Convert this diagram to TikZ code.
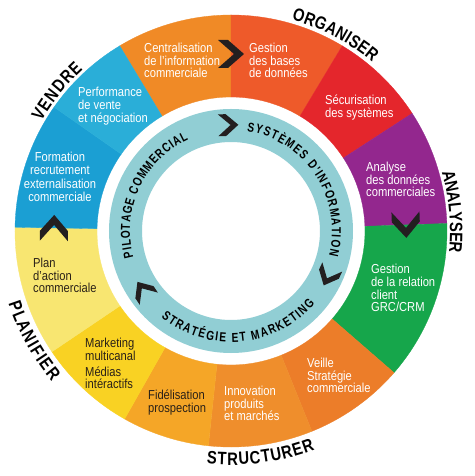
\documentclass[tikz,border=0pt]{standalone}
\usepackage{fontspec}
\setmainfont{Liberation Sans}[FakeStretch=0.86]
\newfontfamily\lblfont{Liberation Sans}[FakeStretch=0.82]
\newfontfamily\ringfont{Liberation Sans}[FakeStretch=0.78]
\usetikzlibrary{decorations.text}
\definecolor{cCentral}{HTML}{F08A26}
\definecolor{cGestion}{HTML}{EE5A2A}
\definecolor{cSecur}{HTML}{E4262C}
\definecolor{cAnalyse}{HTML}{93278E}
\definecolor{cGRC}{HTML}{16A64B}
\definecolor{cVeille}{HTML}{EC7D29}
\definecolor{cInnov}{HTML}{EF8E2C}
\definecolor{cFidel}{HTML}{F5A627}
\definecolor{cMarket}{HTML}{F9D223}
\definecolor{cPlan}{HTML}{F8E671}
\definecolor{cForm}{HTML}{1B9FD3}
\definecolor{cPerf}{HTML}{2AAED8}
\definecolor{cTeal}{HTML}{91CED4}
\definecolor{cDark}{HTML}{231F20}
\definecolor{cDarkTxt}{HTML}{2A2118}
\newcommand\ringseg[3]{\fill[#3, draw=#3, line width=0.3pt] (#1:134pt) arc[start angle=#1, end angle=#2, radius=134pt] -- (#2:216pt) arc[start angle=#2, end angle=#1, radius=216pt] -- cycle;}
\newcommand\chevmark[3]{\fill[cDark, shift={(#1:#2pt)}, rotate=#1-90, scale=#3] (-13,14) -- (-3,14) -- (13,0) -- (-3,-14) -- (-13,-14) -- (3,0) -- cycle;}
\newcommand\lblfmt{\lblfont\bfseries\fontsize{18}{18}\selectfont}
\newcommand\ringfmt{\ringfont\bfseries\fontsize{13}{13}\selectfont}
\tikzset{
  segtxt/.style={anchor=north west, inner sep=0pt, align=left, font=\fontsize{13}{12.5}\selectfont, text=white},
  segdark/.style={segtxt, text=cDarkTxt}
}
\begin{document}
\begin{tikzpicture}[x=1pt,y=1pt]
\useasboundingbox (-231,-245) rectangle (243,231);
\fill[white] (-231,-245) rectangle (243,231);
% outer ring
\ringseg{90}{121}{cCentral}
\ringseg{59}{90}{cGestion}
\ringseg{33}{59}{cSecur}
\ringseg{2}{33}{cAnalyse}
\ringseg{-41}{2}{cGRC}
\ringseg{-68}{-41}{cVeille}
\ringseg{-96}{-68}{cInnov}
\ringseg{-119.5}{-96}{cFidel}
\ringseg{-146}{-119.5}{cMarket}
\ringseg{-181}{-146}{cPlan}
\ringseg{145}{179}{cForm}
\ringseg{121}{145}{cPerf}
% teal ring
\fill[cTeal, even odd rule] (0,0) circle[radius=122pt] (0,0) circle[radius=89pt];
% chevrons
\chevmark{90}{177}{1}
\chevmark{2}{175}{1}
\chevmark{179}{177}{1}
\chevmark{91.5}{106}{0.78}
\chevmark{-25}{107}{0.78}
\chevmark{-146}{106}{0.78}
% segment texts
\node[segtxt] (t1) at (-87,188) {Centralisation\\de l’information\\commerciale};
\node[segtxt] (t2) at (18,188) {Gestion\\des bases\\de données};
\node[segtxt] (t3) at (94,136) {Sécurisation\\des systèmes};
\node[segtxt] (t4) at (135,69) {Analyse\\des données\\commerciales};
\node[segtxt, font=\fontsize{13}{12.7}\selectfont] (t5) at (140,-33) {Gestion\\de la relation\\client\\GRC/CRM};
\node[segtxt] (t6) at (76,-127) {Veille\\Stratégie\\commerciale};
\node[segtxt] (t7) at (-7,-155) {Innovation\\produits\\et marchés};
\node[segdark] (t8) at (-83,-159) {Fidélisation\\prospection};
\node[segdark, font=\fontsize{13}{12}\selectfont] (t9) at (-146,-107) {Marketing\\multicanal\\[4pt]Médias\\intéractifs};
\node[segdark] (t10) at (-198,-27) {Plan\\d’action\\commerciale};
\node[segtxt, anchor=north, align=center, font=\fontsize{13}{13.3}\selectfont] (t11) at (-171,79) {Formation\\recrutement\\externalisation\\commerciale};
\node[segtxt, font=\fontsize{13}{13}\selectfont] (t12) at (-153,144) {Performance\\de vente\\et négociation};
% outer labels
\path[decorate, decoration={text along path, text align=fit to path, text={|\lblfmt|VENDRE}}] (150:219pt) arc[start angle=150, end angle=132.5, radius=219pt];
\path[decorate, decoration={text along path, text align=fit to path, text={|\lblfmt|ORGANISER}}] (74:220pt) arc[start angle=74, end angle=50, radius=220pt];
\path[decorate, decoration={text along path, text align=center, text={|\lblfmt|ANALYSER}}] (35:219pt) arc[start angle=35, end angle=-25, radius=219pt];
\path[decorate, decoration={text along path, text align=fit to path, text={|\lblfmt|STRUCTURER}}] (-96:234pt) arc[start angle=-96, end angle=-69, radius=234pt];
\path[decorate, decoration={text along path, text align=fit to path, text={|\lblfmt|PLANIFIER}}] (-162:234pt) arc[start angle=-162, end angle=-140, radius=234pt];
% inner ring labels
\path[decorate, decoration={text along path, text align=fit to path, text={|\ringfmt|PILOTAGE COMMERCIAL}}] (195:101pt) arc[start angle=195, end angle=115, radius=101pt];
\path[decorate, decoration={text along path, text align=fit to path, text={|\ringfmt|SYSTÈMES D'INFORMATION}}] (81:101pt) arc[start angle=81, end angle=-14, radius=101pt];
\path[decorate, decoration={text along path, text align=fit to path, text={|\ringfmt|STRATÉGIE ET MARKETING}}] (-129:111pt) arc[start angle=-129, end angle=-41, radius=111pt];
\end{tikzpicture}
\end{document}
